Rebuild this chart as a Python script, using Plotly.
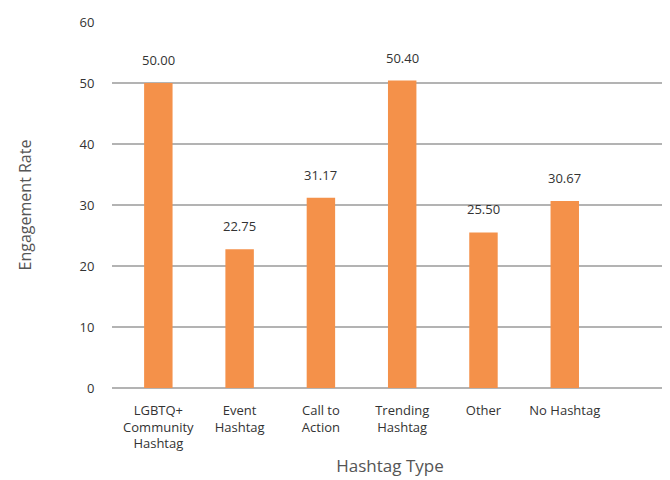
import plotly.graph_objects as go

categories = ["LGBTQ+<br>Community<br>Hashtag", "Event<br>Hashtag", "Call to<br>Action",
              "Trending<br>Hashtag", "Other", "No Hashtag"]
engagement = [50.00, 22.75, 31.17, 50.40, 25.50, 30.67]
y_ticks = [0, 10, 20, 30, 40, 50, 60]

fig = go.Figure()
fig.add_trace(go.Bar(
    x=categories,
    y=engagement,
    marker=dict(color="#F4914A", line=dict(width=0)),
    width=0.35,
    hoverinfo="x+y",
))

# value labels above bars
for cat, v in zip(categories, engagement):
    fig.add_annotation(
        x=cat, y=v, text=f"{v:.2f}", showarrow=False,
        yanchor="bottom", yshift=12,
        font=dict(family="Open Sans", size=13, color="#333333"),
    )

# page body adds an 8px offset, so margins are trimmed to match
fig.update_layout(
    template="none",
    width=670, height=480,
    margin=dict(l=104, r=10, t=14, b=100),
    paper_bgcolor="white",
    plot_bgcolor="white",
    font=dict(family="Open Sans", color="#333333"),
    showlegend=False,
    xaxis=dict(
        range=[-0.57, 6.27],
        automargin="bottom",
        showgrid=False,
        showline=False,
        zeroline=False,
        ticks="outside",
        ticklen=10,
        tickcolor="rgba(0,0,0,0)",
        tickfont=dict(size=13, color="#333333"),
        title=dict(text="Hashtag Type", font=dict(size=17, color="#555555"), standoff=8),
    ),
    yaxis=dict(
        range=[0, 60],
        automargin="left",
        tickvals=y_ticks,
        showgrid=True,
        gridcolor="#b3b3b3",
        gridwidth=2,
        zeroline=True,
        zerolinecolor="#b3b3b3",
        zerolinewidth=2,
        showline=False,
        ticks="outside",
        ticklen=14,
        tickcolor="rgba(0,0,0,0)",
        tickfont=dict(size=13, color="#333333"),
        title=dict(text="Engagement Rate", font=dict(size=16, color="#555555"), standoff=43),
    ),
)

fig.write_html("out.html")
